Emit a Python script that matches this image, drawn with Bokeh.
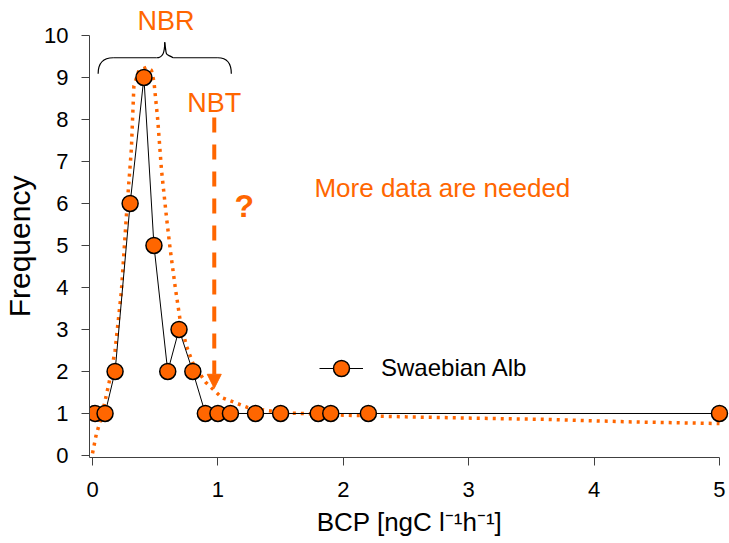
from bokeh.plotting import figure
from bokeh.models import (FixedTicker, Legend, LegendItem, Label, Arrow, NormalHead, Range1d)
from bokeh.embed import file_html
from bokeh.resources import INLINE

# ---- data ----
bcp = [0.02, 0.1, 0.18, 0.3, 0.41, 0.49, 0.6, 0.69, 0.8, 0.9, 1.0, 1.1, 1.3, 1.5, 1.8, 1.9, 2.2, 5.0]
freq = [1, 1, 2, 6, 9, 5, 2, 3, 2, 1, 1, 1, 1, 1, 1, 1, 1, 1]

fit_x = [0.0, 0.03, 0.07, 0.13, 0.18, 0.23, 0.27, 0.31, 0.33, 0.37, 0.43, 0.47, 0.49, 0.52,
         0.55, 0.59, 0.62, 0.66, 0.70, 0.75, 0.80, 0.90, 1.03, 1.24, 1.5, 2.0, 2.5, 3.0, 3.6, 4.3, 5.0]
fit_y = [0.05, 0.5, 0.9, 1.7, 2.5, 3.9, 5.7, 7.3, 8.8, 9.17, 9.24, 9.17, 8.9, 8.0,
         6.8, 5.67, 4.9, 4.0, 3.2, 2.6, 2.2, 1.75, 1.38, 1.14, 1.02, 0.96, 0.92, 0.89, 0.86, 0.8, 0.76]

x_ticks = [0, 1, 2, 3, 4, 5]
y_ticks = [0, 1, 2, 3, 4, 5, 6, 7, 8, 9, 10]

# annotation anchors (data units)
nbr_brace_left = [0.045, 9.09]
nbr_brace_mid_l = [0.165, 9.47]
nbr_brace_mid_r = [0.51, 9.47]
nbr_brace_tip = [0.576, 9.84]
nbr_brace_mid_r2 = [0.643, 9.47]
nbr_brace_mid_r3 = [1.0, 9.47]
nbr_brace_right = [1.107, 9.09]
nbt_label_pos = [0.971, 8.4]
nbt_arrow = [0.971, 8.05, 0.971, 1.6]
question_pos = [1.21, 5.95]
more_pos = [1.77, 6.36]

ORANGE = "#FF6600"
FONT = "Liberation Sans"

p = figure(width=729, height=543, output_backend="svg", toolbar_location=None,
           title="NBR",
           x_range=Range1d(-0.024, 5.08), y_range=Range1d(-0.048, 10.0),
           min_border_left=88, min_border_right=0, min_border_top=35, min_border_bottom=86)
p.outline_line_color = None
p.xgrid.visible = False
p.ygrid.visible = False
p.background_fill_color = "white"

# the "NBR" label above the brace (lives in the space above the plot frame)
p.title.align = "left"
p.title.offset = 48
p.title.standoff = 0
p.title.text_font = FONT
p.title.text_font_size = "27px"
p.title.text_font_style = "normal"
p.title.text_color = ORANGE

for ax, ticks, bnd in ((p.xaxis[0], x_ticks, (-0.024, 5)), (p.yaxis[0], y_ticks, (-0.048, 10))):
    ax.ticker = FixedTicker(ticks=ticks)
    ax.bounds = bnd
    ax.axis_line_color = "#404040"
    ax.axis_line_width = 1
    ax.major_tick_line_color = "#404040"
    ax.major_tick_out = 8
    ax.major_tick_in = 0
    ax.minor_tick_line_color = None
    ax.major_label_text_font = FONT
    ax.major_label_text_font_size = "22px"
    ax.major_label_text_color = "black"
    ax.axis_label_text_font = FONT
    ax.axis_label_text_font_style = "normal"
    ax.axis_label_text_color = "black"

p.xaxis.axis_label = "BCP [ngC l\u207b\u00b9h\u207b\u00b9]"
p.xaxis.axis_label_text_font_size = "26px"
p.xaxis.major_label_standoff = 16
p.xaxis.axis_label_standoff = 7
p.yaxis.axis_label = "Frequency"
p.yaxis.axis_label_text_font_size = "30px"
p.yaxis.major_label_standoff = 13
p.yaxis.axis_label_standoff = 5

# fitted dotted curve
p.line(fit_x, fit_y, line_color=ORANGE, line_width=3.5, line_dash="3 5", line_cap="butt")

# data line + markers
line_r = p.line(bcp, freq, line_color="black", line_width=1)
scat_r = p.scatter(bcp, freq, size=16, marker="circle", fill_color=ORANGE,
                   line_color="black", line_width=1.5)

# brace over NBR
bx0 = [nbr_brace_left[0], nbr_brace_mid_r[0], nbr_brace_mid_r2[0], nbr_brace_mid_r3[0]]
by0 = [nbr_brace_left[1], nbr_brace_mid_r[1], nbr_brace_mid_r2[1], nbr_brace_mid_r3[1]]
bx1 = [nbr_brace_mid_l[0], nbr_brace_tip[0], nbr_brace_tip[0], nbr_brace_right[0]]
by1 = [nbr_brace_mid_l[1], nbr_brace_tip[1], nbr_brace_tip[1], nbr_brace_right[1]]
cx0 = [nbr_brace_left[0], nbr_brace_mid_r[0] + 0.05, nbr_brace_tip[0], nbr_brace_mid_r3[0] + 0.07]
cy0 = [nbr_brace_left[1] + 0.25, nbr_brace_mid_r[1], nbr_brace_tip[1] - 0.25, nbr_brace_mid_r3[1]]
cx1 = [nbr_brace_mid_l[0] - 0.08, nbr_brace_tip[0], nbr_brace_mid_r2[0] - 0.05, nbr_brace_right[0]]
cy1 = [nbr_brace_mid_l[1], nbr_brace_tip[1] - 0.25, nbr_brace_mid_r2[1], nbr_brace_right[1] + 0.25]
p.bezier(x0=bx0, y0=by0, x1=bx1, y1=by1, cx0=cx0, cy0=cy0, cx1=cx1, cy1=cy1,
         line_color="black", line_width=1.2)
p.segment(x0=[nbr_brace_mid_l[0], nbr_brace_mid_r2[0]], y0=[nbr_brace_mid_l[1], nbr_brace_mid_r2[1]],
          x1=[nbr_brace_mid_r[0], nbr_brace_mid_r3[0]], y1=[nbr_brace_mid_r[1], nbr_brace_mid_r3[1]],
          line_color="black", line_width=1.2)

# NBT arrow
p.add_layout(Arrow(x_start=nbt_arrow[0], y_start=nbt_arrow[1], x_end=nbt_arrow[2], y_end=nbt_arrow[3],
                   line_color=ORANGE, line_width=4, line_dash="15 12",
                   end=NormalHead(size=14, fill_color=ORANGE, line_color=ORANGE, line_width=1)))

def add_label(pos, text, size, style="normal", align="center", color=ORANGE):
    p.add_layout(Label(x=pos[0], y=pos[1], text=text, text_font=FONT, text_font_size=size,
                       text_font_style=style, text_color=color, text_align=align,
                       text_baseline="middle"))

add_label(nbt_label_pos, "NBT", "27px")
add_label(question_pos, "?", "32px", style="bold")
add_label(more_pos, "More data are needed", "26px", align="left")

legend = Legend(items=[LegendItem(label="Swaebian Alb", renderers=[line_r, scat_r])],
                location=(230, 69), border_line_color=None, background_fill_alpha=0,
                glyph_width=44, glyph_height=40, label_standoff=18, padding=0, margin=0,
                label_text_font=FONT, label_text_font_size="24px", label_text_color="black")
p.add_layout(legend)

open("out.html", "w").write(file_html(p, INLINE))
